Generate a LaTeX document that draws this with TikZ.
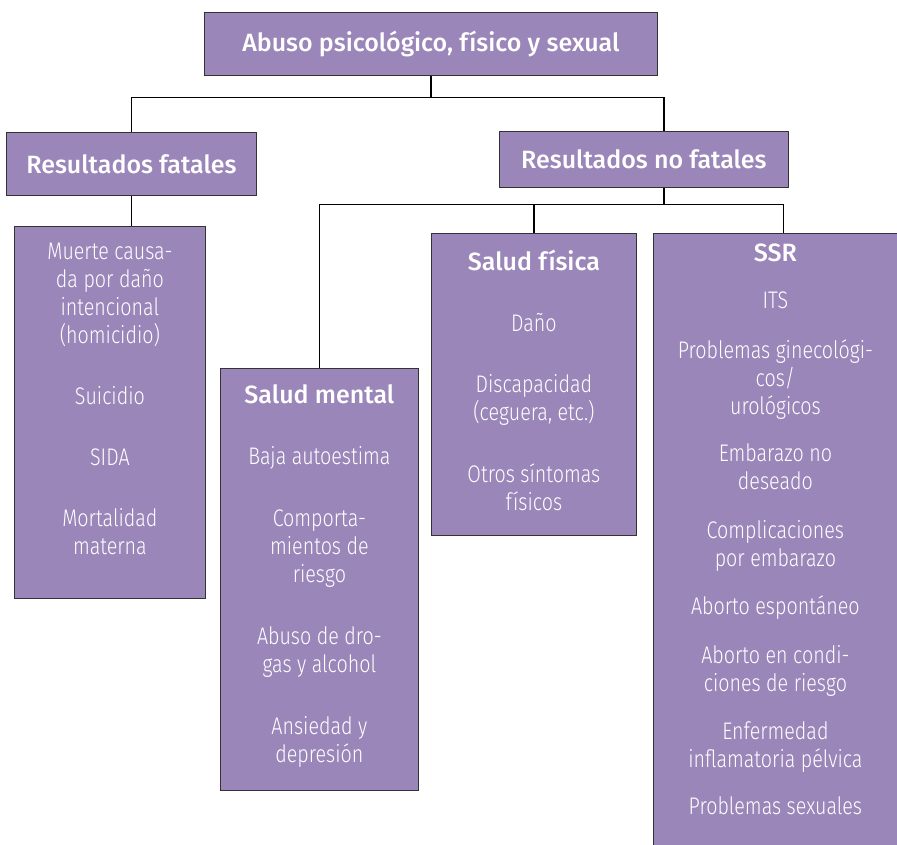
\documentclass[tikz,border=0pt]{standalone}
\usepackage{fontspec}
\setmainfont{Fira Sans}[UprightFont={* Light},BoldFont={* Medium},FakeStretch=0.82]
\newfontfamily\tituloFont{Fira Sans}[UprightFont={* Medium}]
\definecolor{lila}{RGB}{155,134,186}
\begin{document}
\begin{tikzpicture}[x=1pt,y=-1pt,
  caja/.style={draw=black!80,line width=0.8pt,fill=lila,inner sep=0pt,anchor=north west},
  titulo/.style={text=white,font=\tituloFont\fontsize{25}{28}\selectfont},
  lista/.style={text=white,align=center,inner sep=0pt,anchor=north,font=\fontsize{24}{28}\selectfont},
  rama/.style={line width=1.2pt}]
\useasboundingbox (0,0) rectangle (897,844);

% niveles superiores
\node[caja,titulo,minimum width=453,minimum height=63] (abuso) at (204,12) {Abuso psicológico, físico y sexual};
\node[caja,titulo,minimum width=250,minimum height=63] (fatal) at (6,132) {Resultados fatales};
\node[caja,titulo,minimum width=289,minimum height=56] (nofatal) at (499,131) {Resultados no fatales};

% cajas de resultados
\node[caja,minimum width=191,minimum height=372] (muerte) at (14,226) {};
\node[caja,minimum width=198,minimum height=422] (mental) at (220,368) {};
\node[caja,minimum width=205,minimum height=302] (fisica) at (431,233) {};
\node[caja,minimum width=260,minimum height=620] (ssr) at (653,233) {};

\node[lista] (muerte-txt) at ([yshift=-17]muerte.north) {Muerte causa-\\da por daño\\intencional\\(homicidio)\\[33pt]
  Suicidio\\[33pt]SIDA\\[33pt]Mortalidad\\materna};
\node[lista] (mental-txt) at ([yshift=-16]mental.north) {{\tituloFont\fontsize{25}{28}\selectfont Salud mental}\\[33pt]
  Baja autoestima\\[34pt]Comporta-\\mientos de\\riesgo\\[34pt]
  Abuso de dro-\\gas y alcohol\\[34pt]Ansiedad y\\depresión};
\node[lista] (fisica-txt) at ([yshift=-17]fisica.north) {{\tituloFont\fontsize{25}{28}\selectfont Salud física}\\[33pt]
  Daño\\[33pt]Discapacidad\\(ceguera, etc.)\\[34pt]Otros síntomas\\físicos};
\node[lista] (ssr-txt) at ([xshift=-8,yshift=-11]ssr.north) {{\tituloFont\fontsize{25}{28}\selectfont SSR}\\[19pt]
  ITS\\[22pt]Problemas ginecológi-\\cos/\\urológicos\\[19pt]
  Embarazo no\\deseado\\[21pt]Complicaciones\\por embarazo\\[20pt]
  Aborto espontáneo\\[21pt]Aborto en condi-\\ciones de riesgo\\[20pt]
  Enfermedad\\inflamatoria pélvica\\[19pt]Problemas sexuales};

% conectores
\draw[rama] (abuso.south) -- ++(0,22) coordinate (j1);
\draw[rama] (fatal.north) |- (j1) -| ([xshift=20]nofatal.north);
\draw[rama] (fatal.south) -- (fatal.south |- muerte.north);
\draw[rama] ([xshift=20]nofatal.south) -- ++(0,17) coordinate (j2);
\draw[rama] (mental.north) |- (j2) -| (ssr.north);
\draw[rama] (fisica.north) -- (fisica.north |- j2);
\end{tikzpicture}
\end{document}
